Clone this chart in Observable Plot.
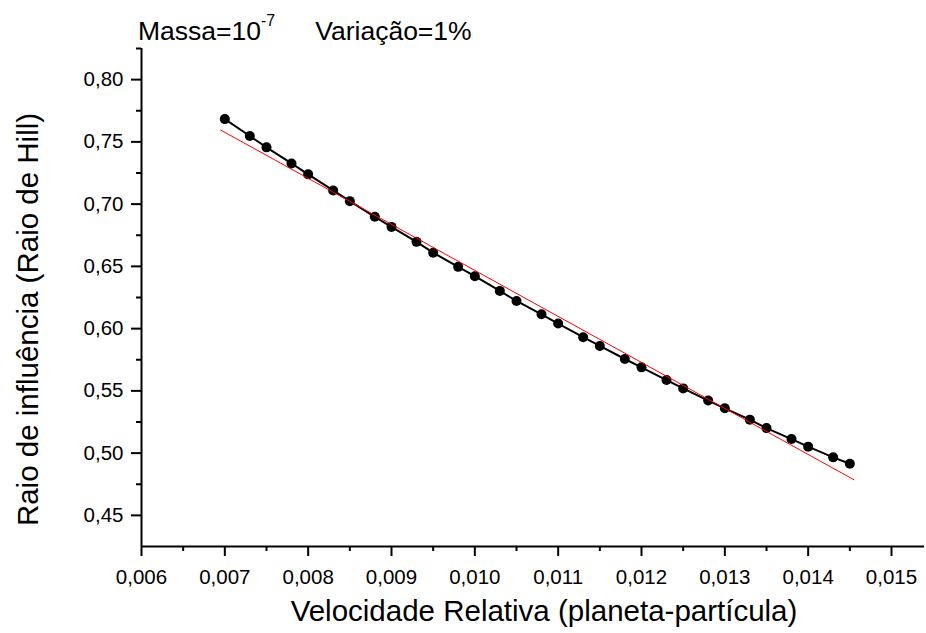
<!DOCTYPE html>
<html>
<head>
<meta charset="utf-8">
<script src="https://cdn.jsdelivr.net/npm/d3@7"></script>
<script src="https://cdn.jsdelivr.net/npm/@observablehq/plot@0.6"></script>
<style>
  body { margin: 0; background: #fff; }
  #wrap { position: relative; width: 926px; height: 633px; font-family: "Liberation Sans", Arial, sans-serif; color: #000; }
  #title { position: absolute; left: 138px; top: 18px; font-size: 26.5px; line-height: 1; white-space: pre; }
  #title sup { font-size: 16px; position: relative; top: -5px; vertical-align: top; }
  #title .gap { display: inline-block; width: 40px; }
</style>
</head>
<body>
<div id="wrap">
  <div id="title">Massa=10<sup>-7</sup><span class="gap"></span>Variação=1%</div>
</div>
<script>
// Data points (black series)
const velocidade = [0.0070, 0.0073, 0.0075, 0.0078, 0.0080, 0.0083, 0.0085, 0.0088, 0.0090, 0.0093,
                    0.0095, 0.0098, 0.0100, 0.0103, 0.0105, 0.0108, 0.0110, 0.0113, 0.0115, 0.0118,
                    0.0120, 0.0123, 0.0125, 0.0128, 0.0130, 0.0133, 0.0135, 0.0138, 0.0140, 0.0143, 0.0145];
const raio = [0.7683, 0.7547, 0.7456, 0.7327, 0.7239, 0.7110, 0.7024, 0.6898, 0.6817, 0.6697,
              0.6610, 0.6496, 0.6421, 0.6303, 0.6222, 0.6115, 0.6041, 0.5931, 0.5861, 0.5756,
              0.5689, 0.5587, 0.5520, 0.5422, 0.5360, 0.5269, 0.5201, 0.5113, 0.5052, 0.4966, 0.4915];
// Linear fit (red line)
const ajusteX = [0.00695, 0.01455];
const ajusteY = [0.7595, 0.4786];
// Ticks
const xTicks = [0.006, 0.007, 0.008, 0.009, 0.010, 0.011, 0.012, 0.013, 0.014, 0.015];
const xMinor = [0.0065, 0.0075, 0.0085, 0.0095, 0.0105, 0.0115, 0.0125, 0.0135, 0.0145];
const yTicks = [0.45, 0.50, 0.55, 0.60, 0.65, 0.70, 0.75, 0.80];
const yMinor = [0.475, 0.525, 0.575, 0.625, 0.675, 0.725, 0.775, 0.825];
const xDomain = [0.006, 0.015396];
const yDomain = [0.425, 0.825];
const xTitle = "Velocidade Relativa (planeta-partícula)";
const yTitle = "Raio de influência (Raio de Hill)";

const pontos = velocidade.map((v, i) => ({x: v, y: raio[i]}));
const ajuste = ajusteX.map((v, i) => ({x: v, y: ajusteY[i]}));
const fmt = (n) => (d) => d3.format("." + n + "f")(d).replace(".", ",");

const chart = Plot.plot({
  width: 926,
  height: 633,
  marginLeft: 141,
  marginRight: 2,
  marginTop: 48,
  marginBottom: 87,
  style: { fontFamily: "Liberation Sans, Arial, sans-serif", color: "#000", background: "transparent", overflow: "visible" },
  x: { domain: xDomain },
  y: { domain: yDomain },
  marks: [
    Plot.axisX({ ticks: xTicks, tickSize: 10, tickPadding: 13, tickFormat: fmt(3), fontSize: 20.5, strokeWidth: 2, label: null }),
    Plot.axisX({ ticks: xMinor, tickSize: 5, text: null, strokeWidth: 2, label: null }),
    Plot.axisY({ ticks: yTicks, tickSize: 10, tickPadding: 8, tickFormat: fmt(2), fontSize: 20.5, strokeWidth: 2, label: null }),
    Plot.axisY({ ticks: yMinor, tickSize: 5, text: null, strokeWidth: 2, label: null }),
    Plot.ruleY([yDomain[0]], { stroke: "#000", strokeWidth: 2 }),
    Plot.ruleX([xDomain[0]], { stroke: "#000", strokeWidth: 2 }),
    Plot.line(pontos, { x: "x", y: "y", stroke: "#000", strokeWidth: 2 }),
    Plot.dot(pontos, { x: "x", y: "y", r: 5, fill: "#000", stroke: "none" }),
    Plot.line(ajuste, { x: "x", y: "y", stroke: "#ff0000", strokeWidth: 1 }),
    Plot.text([xTitle], { frameAnchor: "bottom", dx: 11, dy: 74, fontSize: 29.5, textAnchor: "middle" }),
    Plot.text([yTitle], { frameAnchor: "left", dx: -113, dy: 22, rotate: -90, fontSize: 29.5, textAnchor: "middle" })
  ]
});
chart.style.position = "absolute";
chart.style.left = "0";
chart.style.top = "0";
document.getElementById("wrap").appendChild(chart);
</script>
</body>
</html>
